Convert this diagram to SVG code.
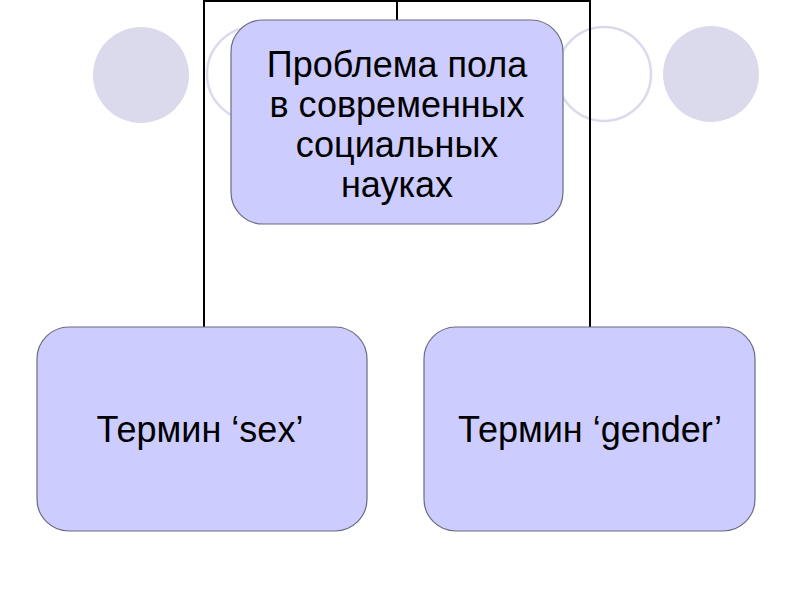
<svg xmlns="http://www.w3.org/2000/svg" width="800" height="600" viewBox="0 0 800 600">
<style>
.node{fill:#ccccff;stroke:#6b6b80;stroke-width:1.2}
.lbl{font-family:"Liberation Sans",Arial,sans-serif;font-size:36px;fill:#000;text-anchor:middle}
.conn{fill:none;stroke:#000;stroke-width:2}
.dotf{fill:#dadaec}
.doto{fill:none;stroke:#dadaec;stroke-width:2.5}
</style>
<rect width="800" height="600" fill="#fff"/>
<g id="background">
<circle class="dotf" cx="141" cy="75" r="48"/>
<circle class="doto" cx="254" cy="74" r="47"/>
<circle class="doto" cx="604" cy="74" r="47"/>
<circle class="dotf" cx="711" cy="74" r="48"/>
</g>
<g id="connectors">
<path class="conn" d="M204,328 V1 H590 V328"/>
<path class="conn" d="M397,1 V20"/>
</g>
<g id="node-top">
<rect class="node" x="231" y="20" width="332" height="204" rx="32"/>
<text class="lbl" x="397" y="77">Проблема пола</text>
<text class="lbl" x="397" y="117">в современных</text>
<text class="lbl" x="397" y="157">социальных</text>
<text class="lbl" x="397" y="197">науках</text>
</g>
<g id="node-sex">
<rect class="node" x="37" y="327" width="330" height="204" rx="32"/>
<text class="lbl" x="200" y="442">Термин ‘sex’</text>
</g>
<g id="node-gender">
<rect class="node" x="424" y="327" width="331" height="204" rx="32"/>
<text class="lbl" x="590" y="442">Термин ‘gender’</text>
</g>
</svg>
